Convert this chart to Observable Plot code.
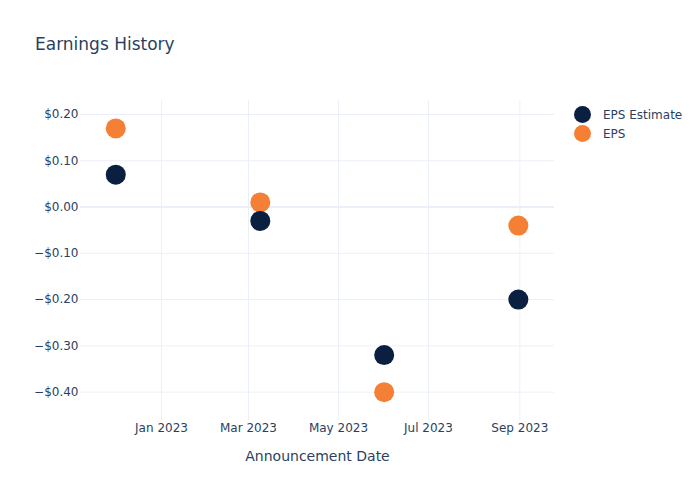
<!DOCTYPE html>
<html>
<head>
<meta charset="utf-8">
<script src="https://cdn.jsdelivr.net/npm/d3@7"></script>
<script src="https://cdn.jsdelivr.net/npm/@observablehq/plot@0.6"></script>
<style>
  html, body { margin: 0; padding: 0; background: #fff; }
  #wrap { position: relative; width: 700px; height: 500px; font-family: "DejaVu Sans", sans-serif; color: #2a3f5f; }
  #title { position: absolute; left: 35px; top: 33px; font-size: 17px; line-height: 22px; }
  #legend { position: absolute; left: 574px; top: 105px; font-size: 12px; }
  .item { display: flex; align-items: center; height: 19px; }
  .sw { width: 17px; height: 17px; border-radius: 50%; margin-right: 12px; }
</style>
</head>
<body>
<div id="wrap">
  <div id="chart"></div>
  <div id="title">Earnings History</div>
  <div id="legend"></div>
</div>
<script>
const dates = ["2022-12-01", "2023-03-09", "2023-06-01", "2023-08-31"];
const epsEstimate = [0.07, -0.03, -0.32, -0.20];
const eps = [0.17, 0.01, -0.40, -0.04];
const seriesNames = ["EPS Estimate", "EPS"];
const seriesColors = ["#0b1f41", "#f58035"];
const xTicks = ["2023-01-01", "2023-03-01", "2023-05-01", "2023-07-01", "2023-09-01"];
const xTickLabels = ["Jan 2023", "Mar 2023", "May 2023", "Jul 2023", "Sep 2023"];
const yTicks = [-0.4, -0.3, -0.2, -0.1, 0, 0.1, 0.2];

const parse = d3.utcParse("%Y-%m-%d");
const estRows = dates.map((d, i) => ({date: parse(d), value: epsEstimate[i]}));
const epsRows = dates.map((d, i) => ({date: parse(d), value: eps[i]}));
const xt = xTicks.map(parse);
const fmtY = v => (v < -1e-9 ? "\u2212" : "") + "$" + Math.abs(v).toFixed(2);
const fmtX = d => xTickLabels[xt.findIndex(t => +t === +d)];

const plot = Plot.plot({
  width: 700,
  height: 500,
  marginLeft: 80,
  marginRight: 146,
  marginTop: 100,
  marginBottom: 80,
  style: {fontFamily: "DejaVu Sans, sans-serif", fontSize: "12px", color: "#2a3f5f", background: "white"},
  x: {type: "utc", domain: [new Date("2022-11-07T02:00:00Z"), new Date("2023-09-24T12:00:00Z")]},
  y: {domain: [-0.4613, 0.2303]},
  marks: [
    Plot.ruleX(xt, {stroke: "#ebf0f8", strokeWidth: 1}),
    Plot.ruleY(yTicks.filter(v => v !== 0), {stroke: "#ebf0f8", strokeWidth: 1}),
    Plot.ruleY([0], {stroke: "#ebf0f8", strokeWidth: 2}),
    Plot.axisX({ticks: xt, tickFormat: fmtX, tickSize: 0, tickPadding: 3, label: null, fill: "#2a3f5f", fontSize: 12}),
    Plot.axisY({ticks: yTicks, tickFormat: fmtY, tickSize: 0, tickPadding: 2, label: null, fill: "#2a3f5f", fontSize: 12}),
    Plot.text(["Announcement Date"], {frameAnchor: "bottom", lineAnchor: "middle", dy: 36, fontSize: 14, fill: "#2a3f5f"}),
    Plot.dot(epsRows, {x: "date", y: "value", r: 10, fill: seriesColors[1], stroke: null}),
    Plot.dot(estRows, {x: "date", y: "value", r: 10, fill: seriesColors[0], stroke: null})
  ]
});
document.getElementById("chart").appendChild(plot);

const legend = document.getElementById("legend");
seriesNames.forEach((n, i) => {
  const it = document.createElement("div");
  it.className = "item";
  const sw = document.createElement("div");
  sw.className = "sw";
  sw.style.background = seriesColors[i];
  const t = document.createElement("span");
  t.textContent = n;
  it.appendChild(sw);
  it.appendChild(t);
  legend.appendChild(it);
});
</script>
</body>
</html>
